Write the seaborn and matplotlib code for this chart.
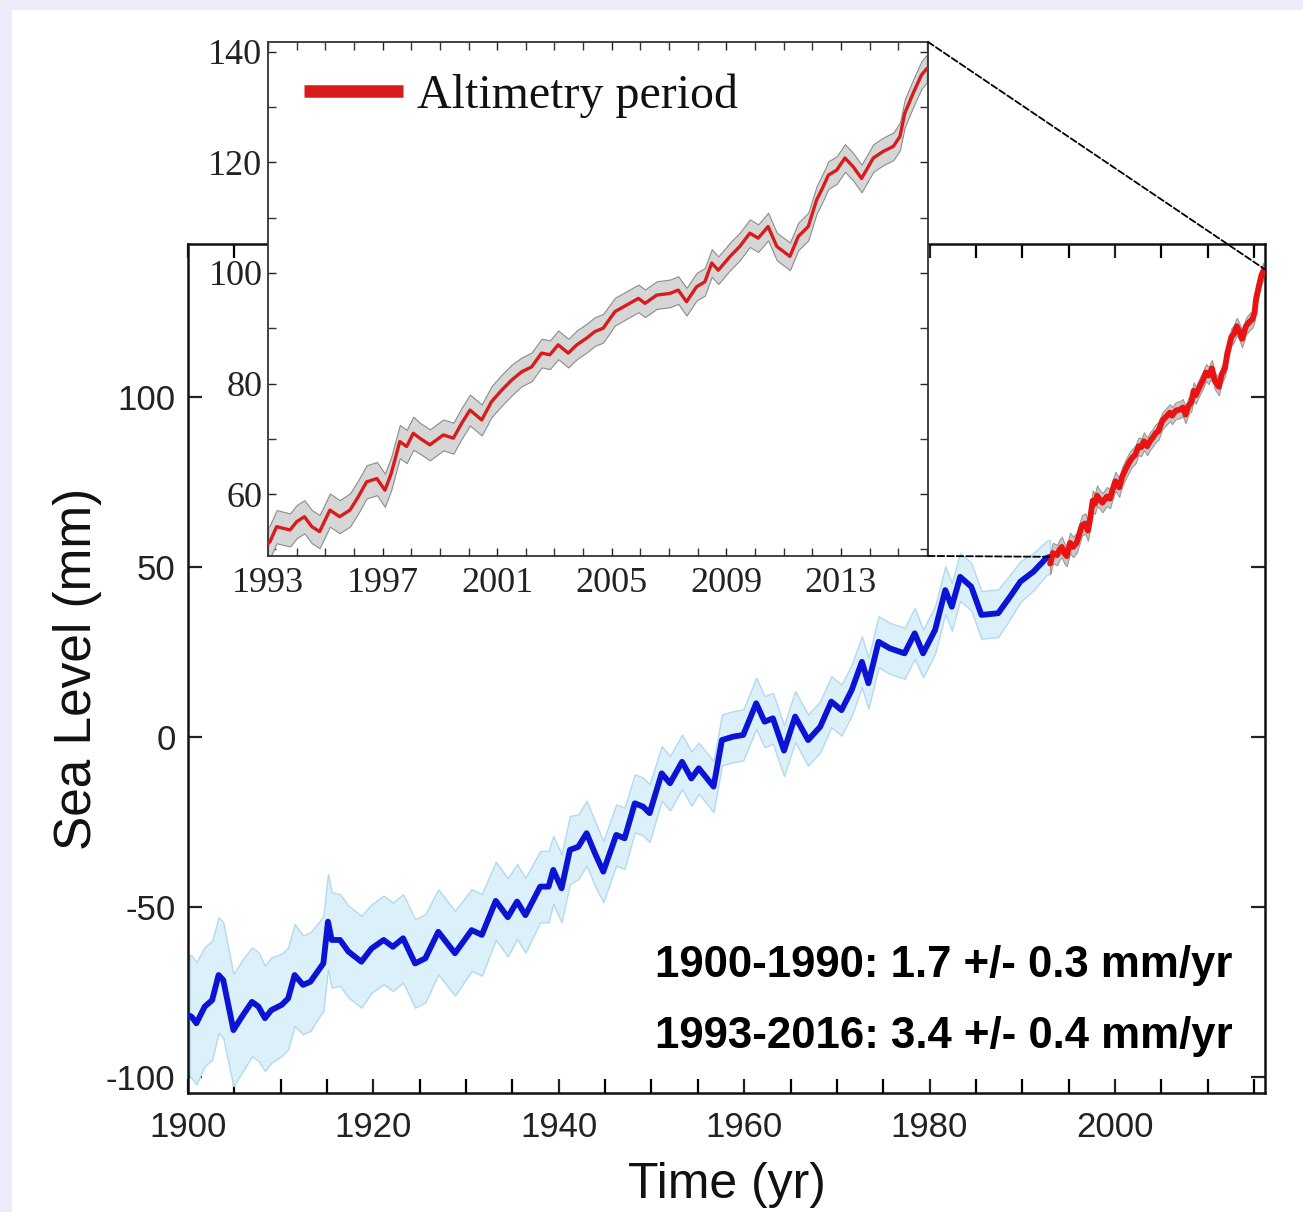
import matplotlib
matplotlib.use("Agg")
import matplotlib.pyplot as plt
from matplotlib.patches import ConnectionPatch, Rectangle
from matplotlib.ticker import MultipleLocator
import numpy as np
import seaborn as sns

# tide-gauge reconstruction (blue)
blue_year = [
    1900.2, 1900.4, 1900.9, 1901.8, 1902.6, 1903.3, 1903.8, 1904.9, 1905.8, 1906.9,
    1907.6, 1908.3, 1909.0, 1910.1, 1910.8, 1911.5, 1912.4, 1913.2, 1914.1, 1914.6,
    1915.1, 1915.5, 1916.4, 1917.3, 1918.7, 1919.8, 1921.1, 1922.1, 1923.2, 1924.5,
    1925.6, 1927.0, 1928.8, 1930.6, 1931.7, 1933.2, 1934.5, 1935.5, 1936.4, 1938.0,
    1938.9, 1939.4, 1940.3, 1941.2, 1942.1, 1943.0, 1943.9, 1944.8, 1946.2, 1947.1,
    1948.2, 1949.1, 1949.8, 1951.1, 1952.0, 1953.3, 1954.3, 1955.1, 1956.7, 1957.6,
    1958.8, 1959.9, 1961.3, 1962.2, 1963.1, 1964.3, 1965.5, 1966.9, 1968.2, 1969.4,
    1970.5, 1971.6, 1972.7, 1973.4, 1974.5, 1975.7, 1977.3, 1978.4, 1979.3, 1980.6,
    1981.7, 1982.4, 1983.3, 1984.5, 1985.6, 1987.4, 1988.7, 1989.8, 1991.2, 1992.6,
    1993.0,
]
blue_level = [
    -82.0, -82.3, -84.2, -79.3, -77.4, -70.0, -71.5, -86.2, -82.3, -77.9,
    -79.3, -82.7, -80.3, -78.8, -76.9, -70.0, -72.9, -72.0, -68.5, -66.6,
    -54.3, -59.7, -59.7, -63.1, -66.1, -62.2, -59.7, -61.7, -59.2, -66.6,
    -65.1, -57.3, -63.6, -56.8, -58.2, -48.2, -53.0, -48.4, -52.4, -44.0,
    -44.0, -39.1, -44.5, -33.2, -32.3, -28.3, -34.2, -39.6, -28.8, -29.8,
    -19.5, -20.5, -22.4, -10.7, -13.6, -7.3, -12.2, -9.2, -14.6, -0.9,
    0.1, 0.6, 9.9, 4.5, 5.5, -4.0, 6.0, -0.9, 3.0, 10.4,
    7.9, 13.8, 22.1, 15.8, 28.0, 26.1, 24.6, 30.5, 24.6, 31.5,
    43.2, 38.3, 47.1, 44.2, 35.9, 36.4, 41.3, 45.7, 48.6, 52.6,
    53.0,
]
blue_err = [
    18, 18, 18, 17.5, 17.5, 17, 17, 16.5, 16.5, 16,
    16, 15.5, 15.5, 15, 15, 15, 14.5, 14.5, 14, 14,
    14, 14, 13.5, 13.5, 13.5, 13, 13, 13, 13, 13,
    13, 12.5, 12.5, 12, 12, 11.5, 11.5, 11, 11, 10.5,
    10.5, 10, 10, 10, 9.5, 9.5, 9.5, 9, 9, 9,
    8.5, 8.5, 8.5, 8, 8, 8, 8, 7.5, 7.5, 7.5,
    7.5, 7.5, 7.5, 7.5, 7.5, 7.5, 7.5, 7.5, 7.5, 7.5,
    7.5, 7.5, 7.5, 7.5, 7.5, 7.5, 7.5, 7.5, 7, 7,
    7, 7, 7, 7, 7, 7, 6.5, 6, 5.5, 5,
    5,
]

# satellite altimetry period (red)
red_year = [
    1993.0, 1993.07, 1993.3, 1993.53, 1993.77, 1994.0, 1994.27, 1994.53, 1994.8, 1995.16,
    1995.5, 1995.86, 1996.15, 1996.44, 1996.8, 1997.08, 1997.3, 1997.6, 1997.84, 1998.07,
    1998.3, 1998.65, 1999.12, 1999.47, 1999.76, 2000.05, 2000.46, 2000.8, 2001.16, 2001.5,
    2001.85, 2002.2, 2002.55, 2002.84, 2003.13, 2003.48, 2003.78, 2004.12, 2004.41, 2004.7,
    2005.11, 2005.52, 2005.93, 2006.16, 2006.57, 2007.03, 2007.32, 2007.61, 2007.96, 2008.25,
    2008.49, 2008.72, 2009.13, 2009.47, 2009.82, 2010.11, 2010.46, 2010.76, 2011.22, 2011.51,
    2011.86, 2012.15, 2012.38, 2012.56, 2012.85, 2013.14, 2013.43, 2013.72, 2014.13, 2014.48,
    2014.83, 2015.06, 2015.23, 2015.52, 2015.81, 2016.0,
]
red_level = [
    51.0, 51.4, 54.1, 53.8, 53.5, 55.0, 55.9, 54.1, 53.2, 57.1,
    55.9, 57.1, 59.5, 62.2, 62.8, 60.7, 63.7, 69.5, 68.6, 71.0,
    70.1, 68.9, 70.7, 70.1, 72.8, 75.2, 73.4, 76.7, 78.8, 80.6,
    82.1, 83.0, 85.5, 85.2, 87.0, 85.5, 87.0, 88.2, 89.4, 90.0,
    93.0, 94.2, 95.4, 94.5, 96.0, 96.3, 96.9, 94.8, 97.5, 98.4,
    101.8, 100.5, 103.0, 104.8, 107.2, 106.3, 108.4, 104.8, 103.0, 106.6,
    108.4, 113.2, 115.6, 117.7, 118.6, 120.8, 119.2, 117.1, 120.8, 122.0,
    122.9, 124.7, 128.9, 132.5, 135.8, 137.0,
]
red_err = [
    3.0, 3.0, 3.0, 3.0, 3.0, 3.0, 3.0, 3.0, 3.0, 3.0,
    3.0, 3.0, 3.0, 3.0, 3.0, 3.0, 3.0, 3.0, 3.0, 3.0,
    2.8, 2.8, 2.8, 2.8, 2.8, 2.8, 2.8, 2.8, 2.8, 2.8,
    2.6, 2.6, 2.6, 2.6, 2.6, 2.6, 2.6, 2.6, 2.6, 2.6,
    2.5, 2.5, 2.5, 2.5, 2.5, 2.5, 2.5, 2.5, 2.5, 2.5,
    2.5, 2.5, 2.5, 2.5, 2.5, 2.5, 2.5, 2.5, 2.5, 2.5,
    2.5, 2.5, 2.5, 2.5, 2.5, 2.5, 2.5, 2.5, 2.5, 2.5,
    2.5, 2.5, 2.5, 2.5, 2.5, 2.5,
]

inset_year_ticks = [1993, 1997, 2001, 2005, 2009, 2013]
rate_lines = ["1900-1990: 1.7 +/- 0.3 mm/yr", "1993-2016: 3.4 +/- 0.4 mm/yr"]

sns.set_style("ticks")
plt.rcParams["font.family"] = ["Liberation Sans", "DejaVu Sans"]
plt.rcParams["axes.unicode_minus"] = False

fig = plt.figure(figsize=(13.03, 12.12), dpi=100, facecolor="#ECECFA")
fig.add_artist(Rectangle((12 / 1303, 0), 1, 1 - 10 / 1212, transform=fig.transFigure,
                         facecolor="white", edgecolor="none", zorder=0))

# ---- main panel
ax = fig.add_axes([0.1443, 0.0982, 0.8266, 0.7005])
ax.set_facecolor("white")
b_year = np.array(blue_year)
b_lev = np.array(blue_level)
b_err = np.array(blue_err)
ax.fill_between(b_year, b_lev - b_err, b_lev + b_err, facecolor="#dcf0fa",
                edgecolor="#b3d9ee", linewidth=1.0, zorder=1)
sns.lineplot(x=blue_year, y=blue_level, ax=ax, color="#0a14d2", linewidth=4.2, zorder=3)

r_year = np.array(red_year)
r_lev = np.array(red_level)
r_err = np.array(red_err)
ax.fill_between(r_year, r_lev - r_err, r_lev + r_err, facecolor="#c8c8c8",
                edgecolor="#9a9a9a", linewidth=0.8, zorder=2)
sns.lineplot(x=red_year, y=red_level, ax=ax, color="#e81414", linewidth=4.2, zorder=3)

ax.set_xlim(1900, 2016.2)
ax.set_ylim(-104.7, 145)
ax.xaxis.set_major_locator(MultipleLocator(20))
ax.xaxis.set_minor_locator(MultipleLocator(5))
ax.yaxis.set_major_locator(MultipleLocator(50))
ax.tick_params(which="both", direction="in", top=True, right=True, length=10,
               width=1.6, color="black")
ax.tick_params(axis="x", labelsize=25, pad=13, colors="#222222")
ax.tick_params(axis="y", labelsize=25, pad=9, colors="#222222")
for sp in ax.spines.values():
    sp.set_linewidth(1.8)
    sp.set_color("#111111")
ax.set_xlabel("Time (yr)", fontsize=36, labelpad=13, color="#111111")
ax.set_ylabel("Sea Level (mm)", fontsize=37, labelpad=3, color="#111111")

for text, ypos in zip(rate_lines, [0.1366, 0.053]):
    ax.text(0.970, ypos, text, transform=ax.transAxes, ha="right", va="baseline",
            fontsize=31.5, fontweight="bold", color="black")

# ---- inset: altimetry period
ins = fig.add_axes([0.2057, 0.5413, 0.5065, 0.4241], zorder=5)
ins.set_facecolor("white")
ins.fill_between(r_year, r_lev - r_err, r_lev + r_err, facecolor="#d6d6d6",
                 edgecolor="#8c8c8c", linewidth=0.8, zorder=1)
sns.lineplot(x=red_year, y=red_level, ax=ins, color="#d81c1c", linewidth=2.4, zorder=3,
             label="Altimetry period")
ins.set_xlim(1993, 2016.04)
ins.set_ylim(48.8, 141.8)
ins.set_xticks(inset_year_ticks)
ins.xaxis.set_minor_locator(MultipleLocator(1))
ins.yaxis.set_major_locator(MultipleLocator(20))
ins.yaxis.set_minor_locator(MultipleLocator(10))
ins.tick_params(which="both", direction="in", top=True, right=True, length=6,
                width=1.0, color="#333333")
ins.tick_params(axis="x", labelsize=26, pad=8, colors="#222222")
ins.tick_params(axis="y", labelsize=26, pad=4, colors="#222222")
for lab in ins.get_xticklabels() + ins.get_yticklabels():
    lab.set_family(["Liberation Serif", "DejaVu Serif"])
for sp in ins.spines.values():
    sp.set_linewidth(1.3)
    sp.set_color("#333333")
ins.set_xlabel("")
ins.set_ylabel("")
leg = ins.legend(loc="upper left", bbox_to_anchor=(0, 1.008), frameon=False,
                 handlelength=2.06, handletextpad=0.3, borderaxespad=0.35,
                 prop={"family": ["Liberation Serif", "DejaVu Serif"], "size": 34.5})
for h in leg.legend_handles:
    h.set_linewidth(9)
    h.set_color("#d81c1c")
    h.set_solid_capstyle("butt")
for t in leg.get_texts():
    t.set_color("#111111")

# zoom connectors
for xy_ins, xy_main in [((1, 1), (2016.2, 137.5)), ((1, 0), (1993.0, 53.0))]:
    con = ConnectionPatch(xyA=xy_ins, coordsA=ins.transAxes, xyB=xy_main, coordsB=ax.transData,
                          linestyle="--", color="black", linewidth=1.3, zorder=10)
    fig.add_artist(con)

fig.savefig("out.png", dpi=100, facecolor=fig.get_facecolor())
